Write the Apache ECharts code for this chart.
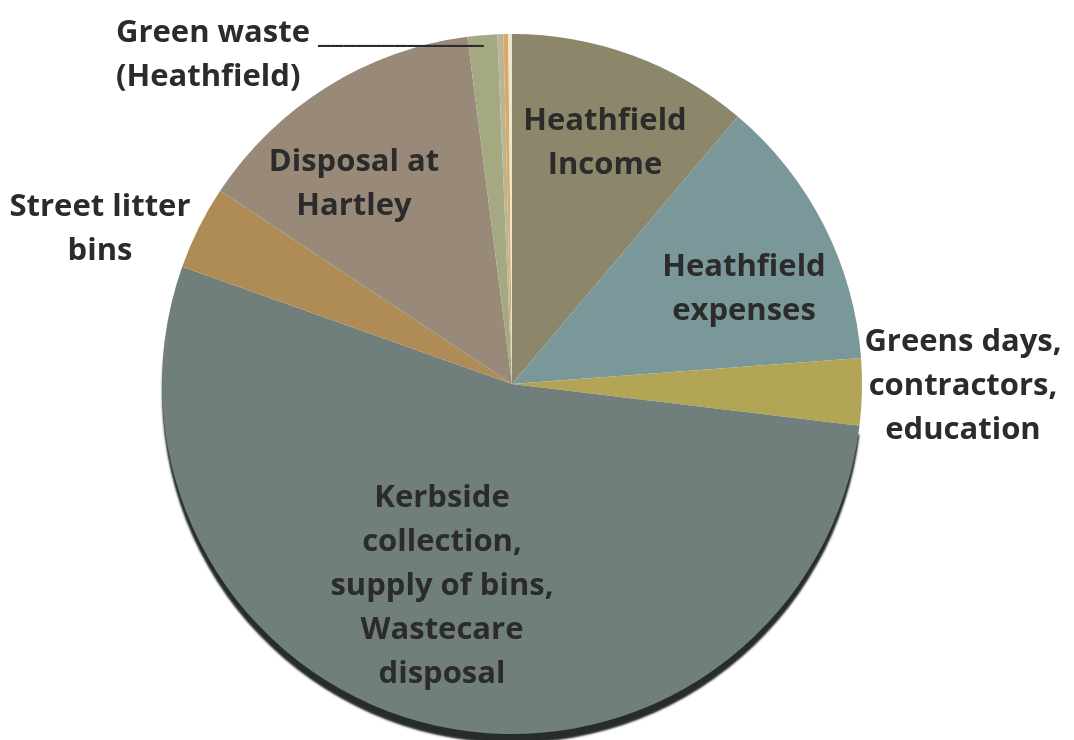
<!DOCTYPE html>
<html><head><meta charset="utf-8">
<script src="https://cdn.jsdelivr.net/npm/echarts@6/dist/echarts.min.js"></script>
<style>html,body{margin:0;padding:0;background:#fff}#c{width:1074px;height:740px}</style>
</head><body><div id="c"></div>
<script>
// Data
const categories = ['Heathfield Income','Heathfield expenses','Greens days, contractors, education',
  'Kerbside collection, supply of bins, Wastecare disposal','Street litter bins','Disposal at Hartley',
  'Green waste (Heathfield)','Other (a)','Other (b)','Other (c)'];
const labelTexts = ['Heathfield\nIncome','Heathfield\nexpenses','Greens days,\ncontractors,\neducation',
  'Kerbside\ncollection,\nsupply of bins,\nWastecare\ndisposal','Street litter\nbins','Disposal at\nHartley',
  'Green waste {u|_____________}\n(Heathfield)','','',''];
const values = [11.14, 12.64, 3.08, 53.44, 3.86, 13.64, 1.36, 0.28, 0.22, 0.17];

// Styles
const colors = ['#8c876a','#7a9799','#b2a555','#707f7b','#af8c55','#988978','#a5a982','#b8b694','#d9a86a','#ede6d0'];
const labelPos = [[605,143,'center'],[744,289,'center'],[963,386,'center'],[442,586,'center'],
  [100,229,'center'],[354,184,'center'],[116,55,'left'],null,null,null];

const data = categories.map((n,i)=>{
  const d = {name:n, value:values[i], itemStyle:{color:colors[i]}};
  if (i===3) { d.itemStyle.shadowColor='rgba(38,44,41,1)'; d.itemStyle.shadowOffsetY=9; d.itemStyle.shadowBlur=2; }
  if (!labelTexts[i]) d.label = {show:false};
  return d;
});

const chart = echarts.init(document.getElementById('c'), null, {renderer:'canvas'});
chart.setOption({
  animation:false,
  backgroundColor:'#ffffff',
  series:[{
    type:'pie',
    center:[512,384],
    radius:350,
    startAngle:90,
    clockwise:true,
    avoidLabelOverlap:false,
    silent:true,
    itemStyle:{borderWidth:0},
    label:{
      show:true,
      position:'inside',
      formatter:p=>labelTexts[p.dataIndex],
      fontFamily:'Open Sans',
      fontWeight:'bold',
      fontSize:31,
      lineHeight:44,
      color:'#2b2b2b',
      rich:{u:{fontFamily:'Open Sans',fontWeight:'bold',fontSize:31,lineHeight:44,color:'#2b2b2b'}}
    },
    labelLine:{show:false},
    labelLayout:p=>{
      const lp = labelPos[p.dataIndex];
      if(!lp) return {};
      return {x:lp[0], y:lp[1], align:lp[2], verticalAlign:'middle'};
    },
    data:data
  }]
});
</script></body></html>
